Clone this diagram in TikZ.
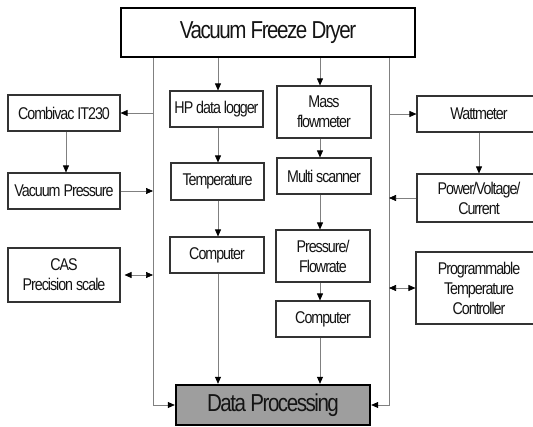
\documentclass[tikz,border=0pt]{standalone}
\usepackage{fontspec}
\setmainfont{Liberation Sans}[FakeStretch=0.84,LetterSpace=-6]
\usetikzlibrary{arrows.meta}
\definecolor{dpfill}{gray}{0.62}
\definecolor{txt}{gray}{0.08}
\definecolor{conn}{gray}{0.5}
\tikzset{
  box/.style={draw=black!80, line width=1.1pt, fill=white, inner sep=0pt, align=center,
    text=txt, font=\fontsize{17}{20}\selectfont},
  bigbox/.style={draw=black, line width=2.4pt, inner sep=0pt, align=center,
    text=txt, font=\fontsize{24.5}{28}\selectfont},
  arr/.style={draw=conn, line width=0.7pt, -{Triangle[length=7pt,width=6pt,fill=black,color=black]}},
  darr/.style={draw=conn, line width=0.7pt, {Triangle[length=7pt,width=6pt,fill=black,color=black]}-{Triangle[length=7pt,width=6pt,fill=black,color=black]}},
  ln/.style={draw=conn, line width=0.7pt}
}
\begin{document}
\begin{tikzpicture}[x=1pt,y=-1pt]
\useasboundingbox (0,0) rectangle (533,426);
\clip (0,0) rectangle (533,426);
% column coordinates
\coordinate (L) at (153,0);
\coordinate (R) at (389,0);
\coordinate (cA) at (218,0);
\coordinate (cB) at (320,0);
\coordinate (cC) at (66,0);
\coordinate (cD) at (479,0);
% nodes
\node[bigbox, minimum width=294pt, minimum height=49pt] (top) at (268,32.5) {Vacuum Freeze Dryer};
\node[bigbox, fill=dpfill, minimum width=194pt, minimum height=40pt] (dp) at (273,405) {Data Processing};
\node[box, minimum width=93pt, minimum height=36pt] (hp) at (216.5,109) {HP data logger};
\node[box, minimum width=94pt, minimum height=52pt] (mass) at (324,112) {Mass\\flowmeter};
\node[box, minimum width=112pt, minimum height=36pt] (comb) at (64,113) {Combivac IT230};
\node[box, minimum width=112pt, minimum height=36pt] (vacp) at (64,191) {Vacuum Pressure};
\node[box, minimum width=93pt, minimum height=37pt] (temp) at (217.5,181.5) {Temperature};
\node[box, minimum width=94pt, minimum height=36pt] (multi) at (324,176) {Multi scanner};
\node[box, minimum width=124pt, minimum height=36pt] (watt) at (479,114) {Wattmeter};
\node[box, minimum width=124pt, minimum height=48pt] (pvc) at (479,198) {Power/Voltage/\\Current};
\node[box, minimum width=94pt, minimum height=36pt] (comp1) at (217,255) {Computer};
\node[box, minimum width=112pt, minimum height=54pt] (cas) at (64,275) {CAS\\Precision scale};
\node[box, minimum width=94pt, minimum height=52pt] (pf) at (323,256) {Pressure/\\Flowrate};
\node[box, minimum width=94pt, minimum height=36pt] (comp2) at (323,319) {Computer};
\node[box, minimum width=126pt, minimum height=72pt] (ptc) at (479,288) {Programmable\\Temperature\\Controller};
% connectors
\draw[arr] (top.south -| L) |- (dp.west);
\draw[arr] (top.south -| R) |- (dp.east);
\draw[arr] (top.south -| cA) -- (hp.north -| cA);
\draw[arr] (top.south -| cB) -- (mass.north -| cB);
\draw[arr] (hp.south -| cA) -- (temp.north -| cA);
\draw[arr] (temp.south -| cA) -- (comp1.north -| cA);
\draw[arr] (comp1.south -| cA) -- (dp.north -| cA);
\draw[arr] (mass.south -| cB) -- (multi.north -| cB);
\draw[arr] (multi.south -| cB) -- (pf.north -| cB);
\draw[arr] (pf.south -| cB) -- (comp2.north -| cB);
\draw[arr] (comp2.south -| cB) -- (dp.north -| cB);
\draw[arr] (L |- comb.east) -- (comb.east);
\draw[arr] (comb.south -| cC) -- (vacp.north -| cC);
\draw[arr] (vacp.east) -- (L |- vacp.east);
\draw[darr, shorten <=4pt] (cas.east) -- (L |- cas.east);
\draw[arr] (R |- watt.west) -- (watt.west);
\draw[arr] (watt.south -| cD) -- (pvc.north -| cD);
\draw[arr] (pvc.west) -- (R |- pvc.west);
\draw[darr] (R |- ptc.west) -- (ptc.west);
\end{tikzpicture}
\end{document}
